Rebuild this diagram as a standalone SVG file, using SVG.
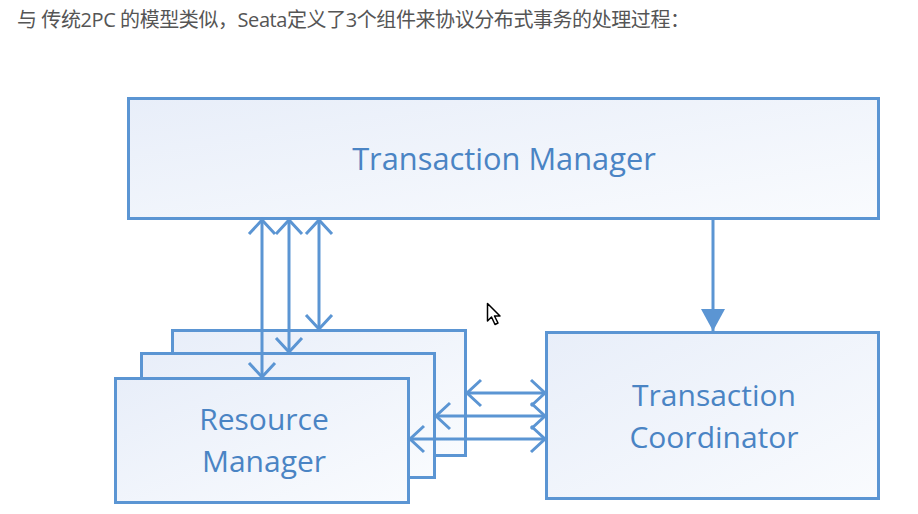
<svg xmlns="http://www.w3.org/2000/svg" width="918" height="514" viewBox="0 0 918 514">
  <style>
    .box { stroke: #5b95d3; stroke-width: 3; fill: url(#boxfill); }
    .lbl { font-family: "Open Sans", "Noto Sans", sans-serif; font-size: 30px; fill: #4a84c4; text-anchor: middle; }
    .big { font-size: 30.8px; }
    .hdr { font-family: "Open Sans", "Noto Sans CJK SC", sans-serif; font-size: 20px; fill: #555555; }
    .conn { stroke: #5b95d3; stroke-width: 3; fill: none; }
  </style>
  <defs>
    <linearGradient id="boxfill" x1="0" y1="0" x2="1" y2="1">
      <stop offset="0" stop-color="#e8eef9"/>
      <stop offset="1" stop-color="#f9fbfe"/>
    </linearGradient>
    <marker id="open" viewBox="-17 -16 20 32" refX="0" refY="0" markerWidth="20" markerHeight="32" markerUnits="userSpaceOnUse" orient="auto-start-reverse">
      <path d="M-14,-13 L0,0 L-14,13" fill="none" stroke="#5b95d3" stroke-width="3"/>
    </marker>
    <marker id="solid" viewBox="-24 -14 26 28" refX="0" refY="0" markerWidth="26" markerHeight="28" markerUnits="userSpaceOnUse" orient="auto">
      <path d="M-22,-12 L0,0 L-22,12 Z" fill="#5b95d3"/>
    </marker>
  </defs>
  <rect width="918" height="514" fill="#ffffff"/>
  <text class="hdr" x="17" y="27" textLength="673" lengthAdjust="spacing">与 传统2PC 的模型类似，Seata定义了3个组件来协议分布式事务的处理过程：</text>

  <g id="tm">
    <rect class="box" x="128.5" y="98.5" width="750" height="120"/>
    <text class="lbl big" x="504" y="170">Transaction Manager</text>
  </g>
  <g id="rm-back">
    <rect class="box" x="172.5" y="330.5" width="293" height="125"/>
  </g>
  <g id="rm-middle">
    <rect class="box" x="141.5" y="353.5" width="293" height="124"/>
  </g>
  <g id="rm">
    <rect class="box" x="115.5" y="378.5" width="293" height="124"/>
    <text class="lbl" x="264" y="430">Resource</text>
    <text class="lbl" x="264" y="472">Manager</text>
  </g>
  <g id="tc">
    <rect class="box" x="546.5" y="332.5" width="332" height="166"/>
    <text class="lbl" x="714" y="406">Transaction</text>
    <text class="lbl" x="714" y="448">Coordinator</text>
  </g>

  <g id="connectors">
    <line class="conn" x1="262" y1="220" x2="262" y2="377" marker-start="url(#open)" marker-end="url(#open)"/>
    <line class="conn" x1="289" y1="220" x2="289" y2="352" marker-start="url(#open)" marker-end="url(#open)"/>
    <line class="conn" x1="319" y1="220" x2="319" y2="329" marker-start="url(#open)" marker-end="url(#open)"/>
    <line class="conn" x1="467" y1="393" x2="545" y2="393" marker-start="url(#open)" marker-end="url(#open)"/>
    <line class="conn" x1="436" y1="416" x2="545" y2="416" marker-start="url(#open)" marker-end="url(#open)"/>
    <line class="conn" x1="410" y1="439" x2="545" y2="439" marker-start="url(#open)" marker-end="url(#open)"/>
    <line class="conn" x1="713" y1="220" x2="713" y2="331" marker-end="url(#solid)"/>
  </g>

  <polygon points="487.5,303.5 487.5,321 491.5,317 495,324.5 498,323 494.5,316 500,316" fill="#ffffff" stroke="#000000" stroke-width="1.5" stroke-linejoin="round"/>
</svg>
